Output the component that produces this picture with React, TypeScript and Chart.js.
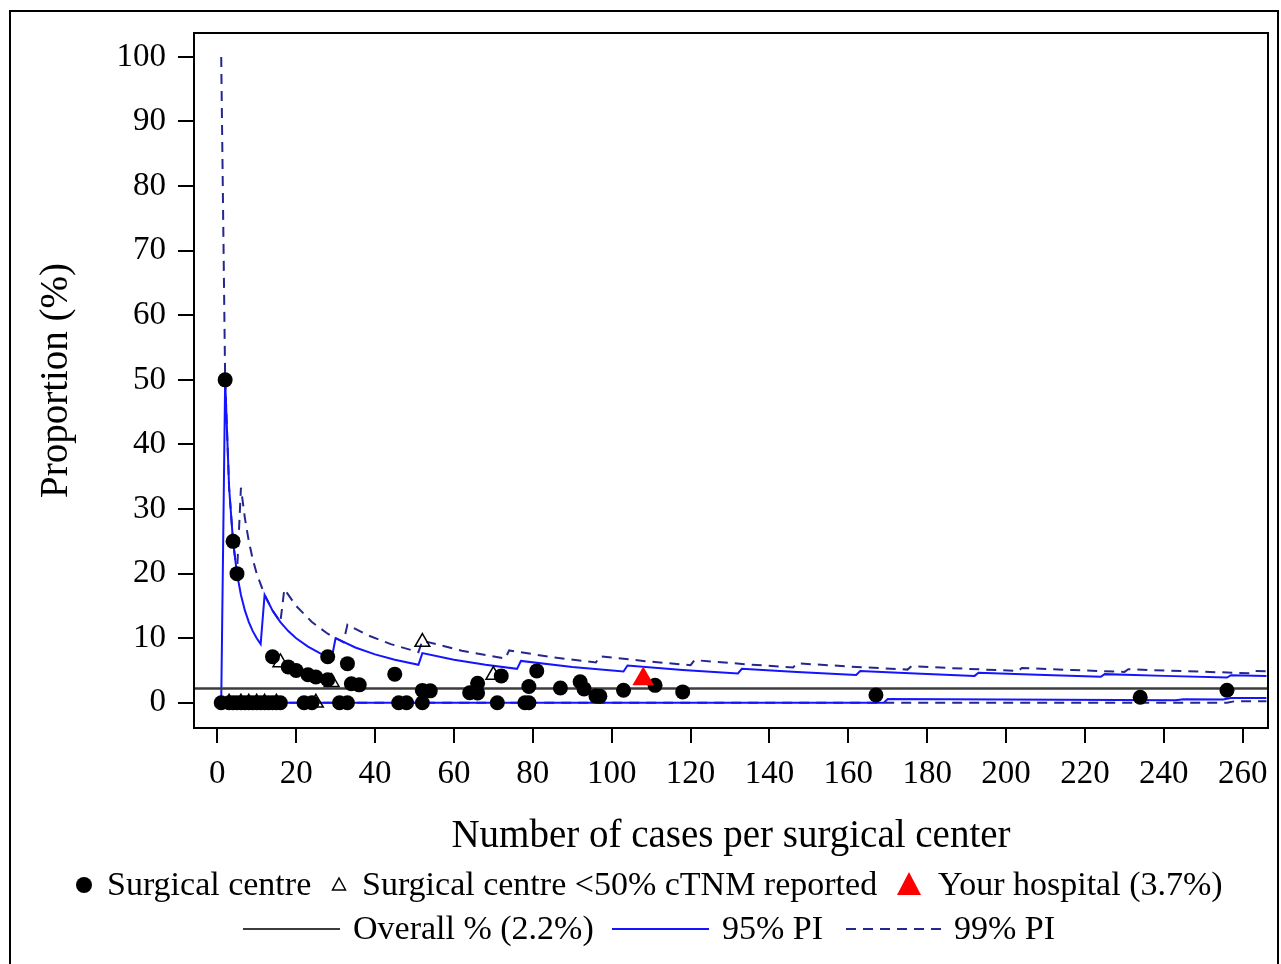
import { useEffect, useRef } from 'react';
import { Chart, registerables } from 'chart.js';

Chart.register(...registerables);

const FONT = '"Liberation Serif", "Times New Roman", serif';

// surgical centres: number of cases and proportion (%)
const centreCases = [
  1, 3, 4, 5, 6, 7, 8, 9, 10, 11, 12, 13, 14, 15, 16,
  22, 24, 31, 33, 46, 48, 52, 71, 78, 79,
  2, 4, 5, 14, 18, 20, 23, 25, 28, 28, 33, 34, 36, 45, 52, 54, 64, 66, 66,
  72, 79, 81, 87, 92, 93, 96, 97, 103, 111, 118, 167, 234, 256,
];
const centrePct = [
  0, 0, 0, 0, 0, 0, 0, 0, 0, 0, 0, 0, 0, 0, 0,
  0, 0, 0, 0, 0, 0, 0, 0, 0, 0,
  50, 25, 20, 7.14, 5.56, 5.0, 4.35, 4.0, 7.14, 3.57, 6.06, 2.94, 2.78, 4.44, 1.92, 1.85, 1.56, 3.03, 1.52,
  4.17, 2.53, 4.94, 2.3, 3.26, 2.15, 1.04, 1.03, 1.94, 2.7, 1.69, 1.2, 0.85, 1.95,
];

// centres with <50% cTNM reported
const lowCases = [3, 6, 8, 10, 12, 15, 25, 16, 29, 52, 70];
const lowPct = [0, 0, 0, 0, 0, 0, 0, 6.25, 3.2, 9.4, 4.29];

// your hospital
const hospitalCases = [108];
const hospitalPct = [3.7];

const overallPct = 2.2;

// prediction limits (vertices)
const upper95Cases = [1, 2, 3, 4, 5, 6, 7, 8, 9, 10, 11, 12, 14, 16, 18, 20, 23, 26, 29, 30, 35, 40, 45, 51, 52, 60, 68, 76, 77, 90, 103, 104, 118, 132, 133, 147, 162, 163, 177, 192, 193, 208, 224, 225, 240, 256, 257, 266];
const upper95Pct = [0, 50, 33.3, 25, 20, 16.7, 14.3, 12.5, 11.1, 10, 9.09, 16.7, 14.3, 12.5, 11.1, 10, 8.7, 7.69, 6.9, 10, 8.57, 7.5, 6.67, 5.88, 7.69, 6.67, 5.88, 5.26, 6.49, 5.56, 4.85, 5.77, 5.08, 4.55, 5.26, 4.76, 4.32, 4.91, 4.52, 4.17, 4.66, 4.33, 4.02, 4.44, 4.17, 3.91, 4.28, 4.14];
const lower95Cases = [1, 169, 170, 243, 245, 255, 257, 266];
const lower95Pct = [0, 0, 0.59, 0.41, 0.55, 0.5, 0.75, 0.75];

const upper99Cases = [1, 2, 3, 4, 5, 6, 7, 8, 9, 10, 12, 14, 16, 17, 20, 24, 28, 32, 33, 38, 44, 51, 52, 62, 73, 74, 85, 96, 97, 108, 120, 121, 134, 146, 147, 160, 175, 176, 190, 203, 204, 217, 230, 231, 246, 262, 263, 266];
const upper99Pct = [100, 50, 33.3, 25, 20, 33.3, 28.6, 25, 22.2, 20, 16.7, 14.3, 12.5, 17.6, 15, 12.5, 10.7, 9.38, 12.1, 10.5, 9.09, 7.84, 9.62, 8.06, 6.85, 8.11, 7.06, 6.25, 7.22, 6.48, 5.83, 6.61, 5.97, 5.48, 6.12, 5.63, 5.14, 5.68, 5.26, 4.93, 5.39, 5.07, 4.78, 5.19, 4.88, 4.58, 4.94, 4.89];
const lower99Cases = [1, 256, 258, 266];
const lower99Pct = [0, 0, 0.25, 0.25];

const X_MIN = -5.9;
const X_MAX = 266.4;
const Y_MIN = -3.9;
const Y_MAX = 103.7;

const BLUE = '#1414ff';
const NAVY = '#262690';
const GREY = '#3c3c3c';

const zip = (xs: number[], ys: number[]) => xs.map((x, i) => ({ x, y: ys[i] }));

const framePlugin = {
  id: 'frameAndLegend',
  afterDraw(chart: any) {
    const { ctx, chartArea } = chart;
    ctx.save();
    ctx.strokeStyle = '#000';
    ctx.lineWidth = 2;
    // outer border
    ctx.strokeRect(10, 11, 1268, 980);
    // plot box
    ctx.strokeRect(chartArea.left, chartArea.top, chartArea.right - chartArea.left, chartArea.bottom - chartArea.top);

    ctx.fillStyle = '#000';
    ctx.textBaseline = 'middle';

    // axis titles
    ctx.font = `39px ${FONT}`;
    ctx.textAlign = 'center';
    ctx.fillText('Number of cases per surgical center', (chartArea.left + chartArea.right) / 2, 837);
    ctx.save();
    ctx.translate(57, (chartArea.top + chartArea.bottom) / 2);
    ctx.rotate(-Math.PI / 2);
    ctx.fillText('Proportion (%)', 0, 0);
    ctx.restore();

    // legend
    ctx.font = `34px ${FONT}`;
    ctx.textAlign = 'left';
    const r1 = 886;
    const r2 = 930;

    ctx.beginPath();
    ctx.arc(84, r1 - 1, 8, 0, Math.PI * 2);
    ctx.fill();
    ctx.fillText('Surgical centre', 107, r1);

    ctx.beginPath();
    ctx.moveTo(339, r1 - 8);
    ctx.lineTo(345.5, r1 + 4);
    ctx.lineTo(332.5, r1 + 4);
    ctx.closePath();
    ctx.lineWidth = 1.5;
    ctx.stroke();
    ctx.fillText('Surgical centre <50% cTNM reported', 362, r1);

    ctx.fillStyle = '#ff0000';
    ctx.beginPath();
    ctx.moveTo(909, r1 - 14);
    ctx.lineTo(921, r1 + 9);
    ctx.lineTo(897, r1 + 9);
    ctx.closePath();
    ctx.fill();
    ctx.fillStyle = '#000';
    ctx.fillText('Your hospital (3.7%)', 938, r1);

    const seg = (x0: number, x1: number, color: string, dash: number[]) => {
      ctx.beginPath();
      ctx.setLineDash(dash);
      ctx.strokeStyle = color;
      ctx.lineWidth = 2;
      ctx.moveTo(x0, r2 - 1);
      ctx.lineTo(x1, r2 - 1);
      ctx.stroke();
      ctx.setLineDash([]);
    };
    seg(243, 340, GREY, []);
    ctx.fillText('Overall % (2.2%)', 353, r2);
    seg(612, 709, BLUE, []);
    ctx.fillText('95% PI', 722, r2);
    seg(846, 942, NAVY, [10, 7]);
    ctx.fillText('99% PI', 954, r2);

    ctx.restore();
  },
};

export default function App() {
  const canvasRef = useRef<HTMLCanvasElement>(null);

  useEffect(() => {
    document.body.style.margin = '0';
    document.body.style.overflow = 'hidden';
    if (!canvasRef.current) return;

    const lineSet = (label: string, xs: number[], ys: number[], color: string, dash: number[], width: number, order: number) => ({
      type: 'scatter' as const,
      label,
      data: zip(xs, ys),
      showLine: true,
      borderColor: color,
      borderWidth: width,
      borderDash: dash,
      pointRadius: 0,
      fill: false,
      order,
    });

    const chart = new Chart(canvasRef.current, {
      type: 'scatter',
      data: {
        datasets: [
          {
            label: 'Your hospital (3.7%)',
            data: zip(hospitalCases, hospitalPct),
            pointStyle: 'triangle',
            pointRadius: 12.5,
            backgroundColor: '#ff0000',
            borderColor: '#ff0000',
            borderWidth: 0,
            order: 0,
          },
          {
            label: 'Surgical centre',
            data: zip(centreCases, centrePct),
            pointStyle: 'circle',
            pointRadius: 7.5,
            backgroundColor: '#000',
            borderColor: '#000',
            borderWidth: 0,
            order: 1,
          },
          {
            label: 'Surgical centre <50% cTNM reported',
            data: zip(lowCases, lowPct),
            pointStyle: 'triangle',
            pointRadius: 8.5,
            backgroundColor: 'rgba(255,255,255,0)',
            borderColor: '#000',
            borderWidth: 1.5,
            order: 2,
          },
          lineSet('Overall % (2.2%)', [X_MIN, X_MAX], [overallPct, overallPct], GREY, [], 2.5, 3),
          lineSet('95% PI', upper95Cases, upper95Pct, BLUE, [], 2, 4),
          lineSet('95% PI lower', lower95Cases, lower95Pct, BLUE, [], 2, 5),
          lineSet('99% PI', upper99Cases, upper99Pct, NAVY, [10, 7], 2, 6),
          lineSet('99% PI lower', lower99Cases, lower99Pct, NAVY, [10, 7], 2, 7),
        ],
      },
      options: {
        animation: false,
        responsive: true,
        maintainAspectRatio: false,
        layout: { padding: { left: 0, top: 33, right: 13, bottom: 0 } },
        plugins: {
          legend: { display: false },
          tooltip: { enabled: false },
        },
        scales: {
          x: {
            type: 'linear',
            min: X_MIN,
            max: X_MAX,
            afterFit: (s: any) => {
              s.height = 236;
            },
            ticks: {
              stepSize: 20,
              includeBounds: false,
              autoSkip: false,
              maxRotation: 0,
              color: '#000',
              padding: 12,
              font: { family: FONT, size: 33 },
            },
            grid: { drawOnChartArea: false, drawTicks: true, tickLength: 15, color: '#000', lineWidth: 2 },
            border: { display: false },
          },
          y: {
            type: 'linear',
            min: Y_MIN,
            max: Y_MAX,
            afterFit: (s: any) => {
              s.width = 194;
            },
            ticks: {
              stepSize: 10,
              includeBounds: false,
              autoSkip: false,
              color: '#000',
              padding: 12,
              font: { family: FONT, size: 33 },
            },
            grid: { drawOnChartArea: false, drawTicks: true, tickLength: 16, color: '#000', lineWidth: 2 },
            border: { display: false },
          },
        },
      },
      plugins: [framePlugin],
    });

    return () => {
      chart.destroy();
    };
  }, []);

  return (
    <div style={{ width: 1281, height: 964, position: 'relative', background: '#fff' }}>
      <canvas ref={canvasRef} />
    </div>
  );
}
